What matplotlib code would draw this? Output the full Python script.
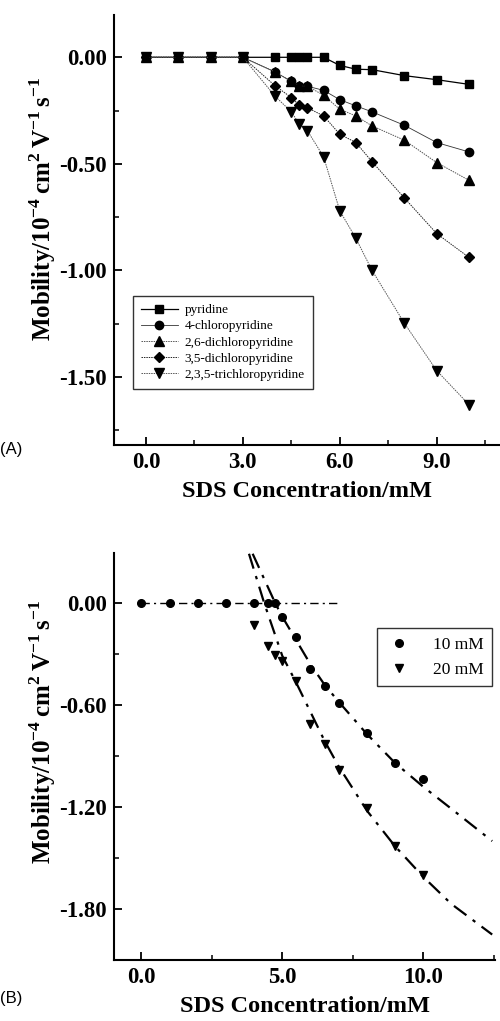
import matplotlib
matplotlib.use("Agg")
import matplotlib.pyplot as plt
from matplotlib.ticker import MultipleLocator

plt.rcParams["font.family"] = "Liberation Serif"
plt.rcParams["mathtext.fontset"] = "custom"
plt.rcParams["mathtext.rm"] = "Liberation Serif:bold"
plt.rcParams["mathtext.bf"] = "Liberation Serif:bold"

# ── Panel A data ─────────────────────────────────────────────────────
conc_a = [0, 1, 2, 3, 4, 4.5, 4.75, 5, 5.5, 6, 6.5, 7, 8, 9, 10]
pyridine = [0, 0, 0, 0, 0, 0, 0, 0, 0, -0.038, -0.056, -0.058, -0.086, -0.105, -0.127]
chloro4 = [0, 0, 0, 0, -0.069, -0.113, -0.136, -0.136, -0.155, -0.199, -0.228, -0.256, -0.319, -0.40, -0.444]
dichloro26 = [0, 0, 0, 0, -0.069, -0.113, -0.136, -0.136, -0.178, -0.244, -0.275, -0.322, -0.389, -0.494, -0.577]
dichloro35 = [0, 0, 0, 0, -0.134, -0.189, -0.225, -0.237, -0.275, -0.361, -0.40, -0.49, -0.66, -0.827, -0.939]
trichloro = [0, 0, 0, 0, -0.183, -0.256, -0.314, -0.345, -0.467, -0.72, -0.85, -1.0, -1.248, -1.47, -1.63]
labels_a = ["pyridine", "4-chloropyridine", "2,6-dichloropyridine",
            "3,5-dichloropyridine", "2,3,5-trichloropyridine"]

# ── Panel B data ─────────────────────────────────────────────────────
conc_10 = [0, 1, 2, 3, 4, 4.5, 4.75, 5, 5.5, 6, 6.5, 7, 8, 9, 10]
mob_10 = [0, 0, 0, 0, 0, 0, 0, -0.084, -0.20, -0.385, -0.49, -0.59, -0.765, -0.94, -1.035]
conc_20 = [4, 4.5, 4.75, 5, 5.5, 6, 6.5, 7, 8, 9, 10]
mob_20 = [-0.13, -0.25, -0.305, -0.34, -0.46, -0.71, -0.83, -0.98, -1.205, -1.43, -1.60]

# fitted curves
fit10_x = [3.95, 4.75, 5.0, 5.5, 6.0, 6.5, 7.0, 8.0, 9.0, 10.0, 11.0, 12.45]
fit10_y = [0.29, 0.0, -0.08, -0.22, -0.36, -0.48, -0.58, -0.77, -0.94, -1.08, -1.21, -1.40]
fit20_x = [3.82, 4.36, 5.0, 5.5, 6.0, 6.5, 7.0, 8.0, 9.0, 10.0, 11.0, 12.45]
fit20_y = [0.29, 0.0, -0.31, -0.47, -0.64, -0.81, -0.96, -1.22, -1.43, -1.61, -1.77, -1.95]
base_x = [0, 7]
base_y = [0, 0]

fig = plt.figure(figsize=(5, 10.21), dpi=100)
fig.patch.set_facecolor("white")


def style_axes(ax):
    for s in ("top", "right"):
        ax.spines[s].set_visible(False)
    for s in ("left", "bottom"):
        ax.spines[s].set_linewidth(1.5)
    ax.tick_params(which="major", direction="in", length=6, width=1.3,
                   labelsize=16.5, pad=5)
    ax.tick_params(which="minor", direction="in", length=3.5, width=1.1)
    for t in ax.get_xticklabels() + ax.get_yticklabels():
        t.set_fontweight("bold")


ylabel = (r"Mobility/10$^{\mathbf{-4}}$$\,$cm$^{\mathbf{2}}$$\,$"
          r"V$^{\mathbf{-1}}$$\,$s$^{\mathbf{-1}}$")

# ── Panel A ──────────────────────────────────────────────────────────
ax1 = fig.add_axes([0.228, 0.564, 0.77, 0.421])
series = [
    (pyridine, "s", "-", "black", 0.9, 5.5),
    (chloro4, "o", "-", "#333333", 0.6, 6),
    (dichloro26, "^", (0, (1.5, 1)), "#555555", 0.7, 6.5),
    (dichloro35, "D", (0, (1.5, 1)), "#222222", 0.7, 5.5),
    (trichloro, "v", (0, (1.5, 1)), "#555555", 0.7, 6.5),
]
for vals, mk, ls, lc, lw, ms in series:
    ax1.plot(conc_a, vals, marker=mk, linestyle=ls, color=lc, lw=lw,
             markersize=ms, markerfacecolor="black", markeredgecolor="black")
ax1.set_xlim(-0.99, 10.93)
ax1.set_ylim(-1.82, 0.197)
ax1.xaxis.set_major_locator(MultipleLocator(3))
ax1.xaxis.set_minor_locator(MultipleLocator(1.5))
ax1.yaxis.set_major_locator(MultipleLocator(0.5))
ax1.yaxis.set_minor_locator(MultipleLocator(0.25))
ax1.xaxis.set_major_formatter(lambda v, p: f"{v:.1f}")
ax1.yaxis.set_major_formatter(lambda v, p: f"{v:.2f}".replace("-0.00", "0.00"))
style_axes(ax1)
ax1.set_xlabel("SDS Concentration/mM", fontsize=17.5, fontweight="bold", labelpad=6)
ax1.set_ylabel(ylabel, fontsize=18, fontweight="bold")
ax1.yaxis.set_label_coords(-0.145, 0.55)
leg1 = ax1.legend(labels_a, loc="upper left", bbox_to_anchor=(0.266, 0.710),
                  bbox_transform=fig.transFigure, fontsize=9.5, frameon=True,
                  fancybox=False, edgecolor="black", handlelength=2.8,
                  labelspacing=0.3, borderpad=0.6, handletextpad=0.5,
                  borderaxespad=0)
leg1.get_frame().set_linewidth(1.0)
fig.text(0.0, 0.567, "(A)", fontsize=12, family="Liberation Sans", va="top")

# ── Panel B ──────────────────────────────────────────────────────────
ax2 = fig.add_axes([0.228, 0.0597, 0.762, 0.3986])
ax2.plot(base_x, base_y, color="black", lw=1.0, linestyle=(0, (6, 3, 1.5, 3)))
ax2.plot(fit10_x, fit10_y, color="black", lw=1.6, linestyle=(0, (7, 3.5, 1.5, 3.5)))
ax2.plot(fit20_x, fit20_y, color="black", lw=1.6, linestyle=(0, (7, 3.5, 1.5, 3.5)))
ax2.plot(conc_10, mob_10, "o", color="black", markersize=5.5, label="10 mM")
ax2.plot(conc_20, mob_20, "v", color="black", markersize=5.5, label="20 mM")
ax2.set_xlim(-0.97, 12.55)
ax2.set_ylim(-2.10, 0.294)
ax2.xaxis.set_major_locator(MultipleLocator(5))
ax2.xaxis.set_minor_locator(MultipleLocator(2.5))
ax2.yaxis.set_major_locator(MultipleLocator(0.6))
ax2.yaxis.set_minor_locator(MultipleLocator(0.3))
ax2.xaxis.set_major_formatter(lambda v, p: f"{v:.1f}")
ax2.yaxis.set_major_formatter(lambda v, p: f"{v:.2f}".replace("-0.00", "0.00"))
style_axes(ax2)
ax2.set_xlabel("SDS Concentration/mM", fontsize=17.5, fontweight="bold", labelpad=6)
ax2.set_ylabel(ylabel, fontsize=18, fontweight="bold")
ax2.yaxis.set_label_coords(-0.148, 0.56)
leg2 = ax2.legend(loc="upper left", bbox_to_anchor=(0.754, 0.385),
                  bbox_transform=fig.transFigure, fontsize=12.5, frameon=True,
                  fancybox=False, edgecolor="black", handlelength=1.5,
                  labelspacing=0.5, borderpad=0.5, handletextpad=1.2,
                  borderaxespad=0)
leg2.get_frame().set_linewidth(1.0)
fig.text(0.0, 0.029, "(B)", fontsize=12, family="Liberation Sans", va="top")

fig.savefig("out.png", dpi=100, facecolor="white")
